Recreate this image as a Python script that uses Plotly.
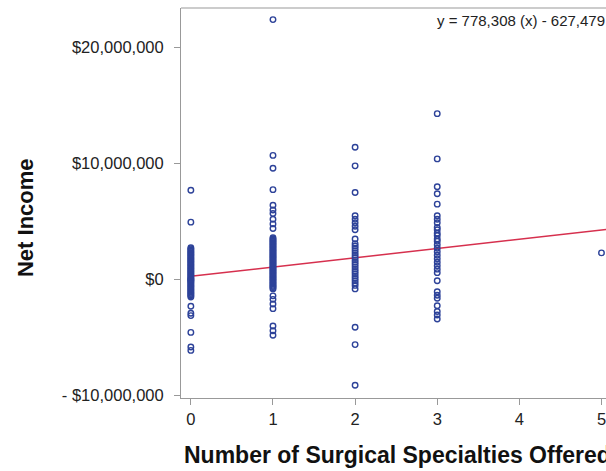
import plotly.graph_objects as go

# Net income values in millions of dollars, by number of surgical specialties offered
income_0 = [7.7, 4.95,
            2.75, 2.65, 2.55, 2.45, 2.35, 2.25, 2.15, 2.05, 1.95, 1.85, 1.75, 1.65, 1.55,
            1.45, 1.35, 1.25, 1.15, 1.05, 0.95, 0.85, 0.75, 0.65, 0.55, 0.45, 0.35, 0.25,
            0.15, 0.08, 0.02, -0.05, -0.12, -0.2, -0.3, -0.4, -0.5, -0.6, -0.7, -0.8,
            -0.9, -1.0, -1.1, -1.2, -1.3, -1.4, -1.5,
            -2.3, -2.9, -3.1, -4.55, -5.8, -6.1]
income_1 = [22.4, 10.7, 9.6, 7.75, 6.4, 6.0, 5.7, 5.2, 4.8, 4.4,
            3.6, 3.5, 3.4, 3.3, 3.2, 3.1, 3.0, 2.9, 2.8, 2.7, 2.6, 2.5, 2.4, 2.3, 2.2,
            2.1, 2.0, 1.9, 1.8, 1.7, 1.6, 1.5, 1.4, 1.3, 1.2, 1.1, 1.0, 0.9, 0.8, 0.7,
            0.6, 0.5, 0.4, 0.3, 0.2, 0.1, 0.0, -0.1, -0.2, -0.3, -0.4, -0.5, -0.6,
            -0.7, -0.8,
            -1.4, -1.7, -2.1, -2.5, -4.0, -4.4, -4.8]
income_2 = [11.4, 9.8, 7.5, 5.5, 5.2, 4.9, 4.6, 4.3, 3.5,
            3.1, 2.9, 2.7, 2.5, 2.3, 2.1, 1.9, 1.7, 1.5, 1.3, 1.1, 0.9, 0.7, 0.5,
            0.3, 0.1, -0.1, -0.3, -0.5, -0.8,
            -4.1, -5.6, -9.1]
income_3 = [14.3, 10.4, 8.0, 7.4, 6.5, 5.5, 5.2, 4.9, 4.5, 4.3, 4.0, 3.8, 3.5, 3.3,
            3.0, 2.7, 2.4, 2.1, 1.8, 1.5, 1.2, 0.9, 0.6, -0.1, -1.05, -1.35, -1.6,
            -2.25, -2.75, -3.05, -3.4]
income_5 = [2.3]

specialties = [0, 1, 2, 3, 5]
incomes = [income_0, income_1, income_2, income_3, income_5]

fit_intercept = 0.28e6
fit_slope = 0.80e6
fit_x_span = [0, 5.2]
equation_text = "y = 778,308 (x) - 627,479"

y_tickvals = [-10e6, 0, 10e6, 20e6]
y_ticktext = ["- $10,000,000", "$0", "$10,000,000", "$20,000,000"]
x_tickvals = [0, 1, 2, 3, 4, 5]

xs, ys = [], []
for s, vals in zip(specialties, incomes):
    for v in vals:
        xs.append(s)
        ys.append(v * 1e6)

fig = go.Figure()
fig.add_trace(go.Scatter(
    x=[fit_x_span[0], fit_x_span[1]],
    y=[fit_intercept + fit_slope * fit_x_span[0], fit_intercept + fit_slope * fit_x_span[1]],
    mode="lines", line=dict(color="#d6304e", width=1.5), hoverinfo="skip", showlegend=False))
fig.add_trace(go.Scatter(
    x=xs, y=ys, mode="markers",
    marker=dict(symbol="circle-open", size=5.5, color="#2d4299", line=dict(width=1.4, color="#2d4299")),
    showlegend=False))

font_family = "Liberation Sans, Arial, sans-serif"
fig.update_layout(
    width=606, height=471,
    margin=dict(l=181, r=0, t=8, b=73),
    paper_bgcolor="white", plot_bgcolor="white",
    font=dict(family=font_family, size=16, color="#222"),
    xaxis=dict(range=[-0.12, 5.055], tickvals=x_tickvals, ticks="outside", ticklen=6,
               tickcolor="#999", showline=True, linecolor="#999", linewidth=1,
               showgrid=False, zeroline=False, ticklabeloverflow="allow",
               tickfont=dict(size=16.5, color="#222")),
    yaxis=dict(range=[-10.2e6, 23.4e6], tickvals=y_tickvals, ticktext=y_ticktext,
               ticks="outside", ticklen=6, tickcolor="#999", showline=True,
               linecolor="#999", linewidth=1, showgrid=False, zeroline=False,
               ticklabelstandoff=7, tickfont=dict(size=16.5, color="#222")),
    shapes=[dict(type="line", xref="paper", yref="paper", x0=0, x1=1, y0=1, y1=1,
                 line=dict(color="#999", width=1))],
    annotations=[
        dict(text=equation_text, xref="paper", yref="paper", x=0.598, y=0.969,
             xanchor="left", yanchor="middle", showarrow=False,
             font=dict(size=15, color="#222")),
        dict(text="Net Income", xref="paper", yref="paper", x=-0.367, y=0.4615,
             xanchor="center", yanchor="middle", textangle=-90, showarrow=False,
             font=dict(size=22, color="#111", weight="bold")),
        dict(text="Number of Surgical Specialties Offered", xref="paper", yref="paper",
             x=0.002, y=-0.146, xanchor="left", yanchor="middle", showarrow=False,
             font=dict(size=23, color="#111", weight="bold")),
    ],
)

fig.write_html(
    "out.html",
    config={"displayModeBar": False},
    post_script="document.documentElement.style.overflow='hidden';"
                "document.body.style.margin='0';document.body.style.overflow='hidden';",
)
